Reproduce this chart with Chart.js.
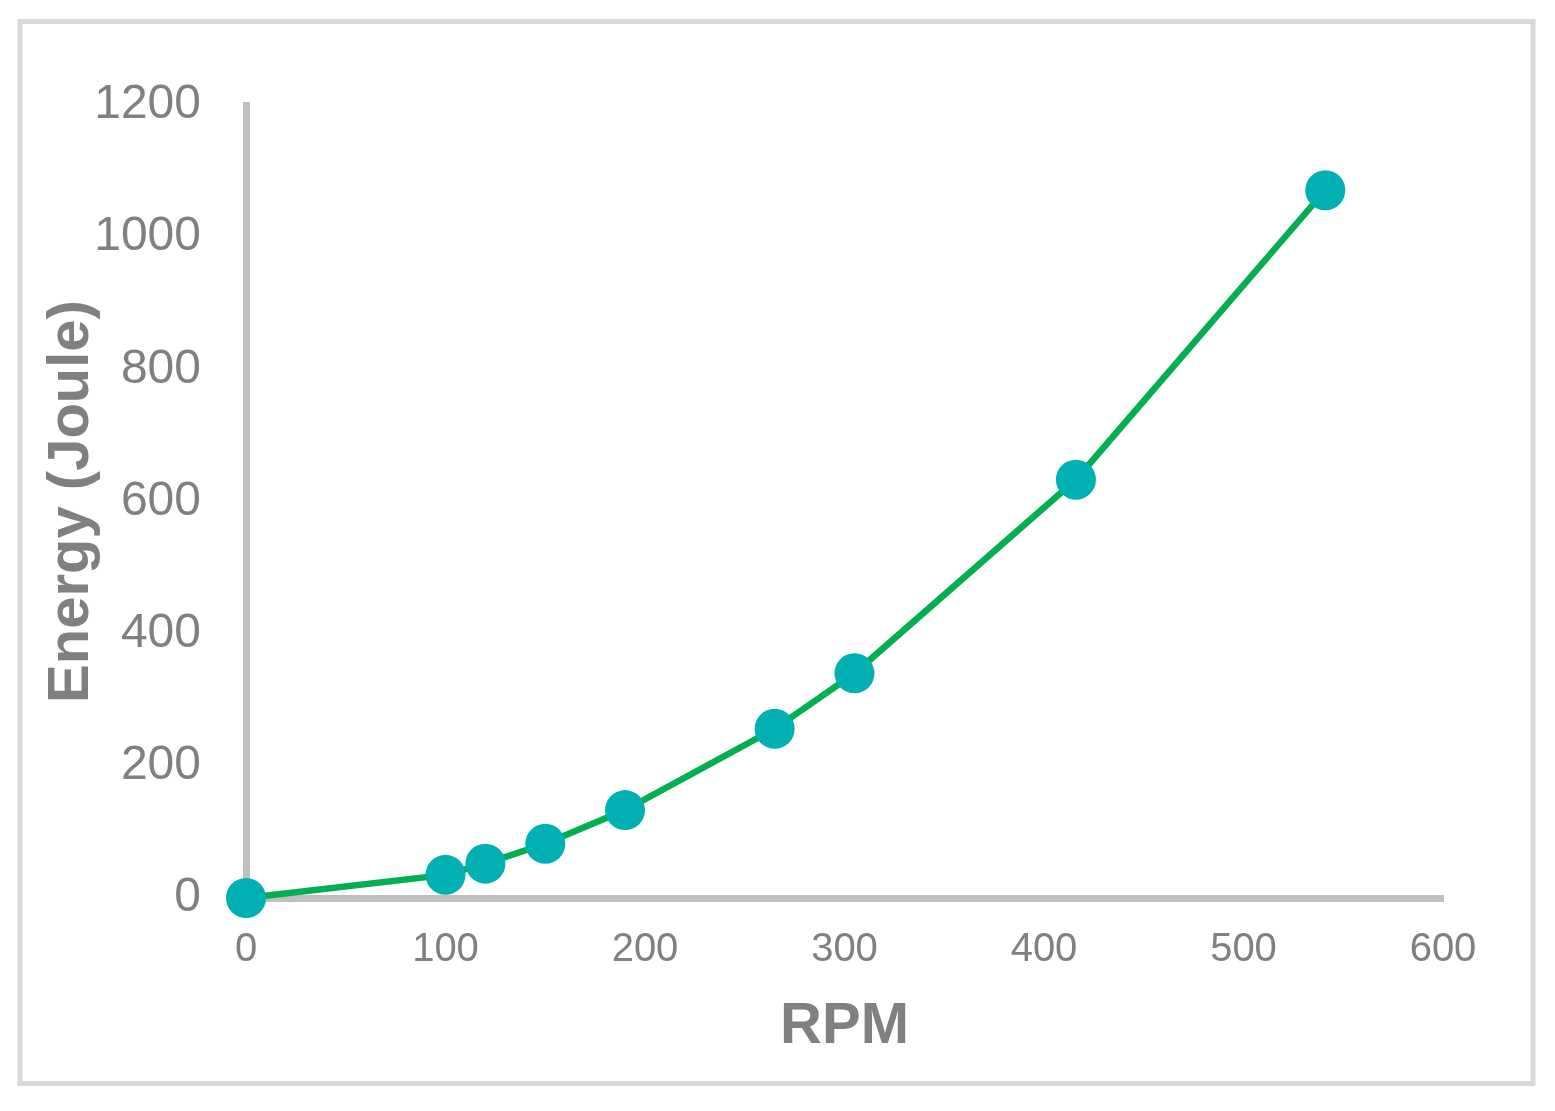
<!DOCTYPE html>
<html>
<head>
<meta charset="utf-8">
<script src="https://cdn.jsdelivr.net/npm/chart.js@4"></script>
<style>
  html, body { margin: 0; padding: 0; background: #ffffff; }
  #wrap { width: 1555px; height: 1111px; position: relative; }
</style>
</head>
<body>
<div id="wrap"><canvas id="chart" width="1555" height="1111"></canvas></div>
<script>
// RPM vs energy
const rpm = [0, 100, 120, 150, 190, 265, 305, 416, 541];
const energy = [0, 35, 52, 82, 133, 256, 340, 633, 1071];

const xTicks = [0, 100, 200, 300, 400, 500, 600];
const yTicks = [0, 200, 400, 600, 800, 1000, 1200];

const FONT = "'Liberation Sans', Arial, sans-serif";
const GREY = '#808080';
const AXIS = '#BFBFBF';

// light grey frame around the whole chart
const framePlugin = {
  id: 'frame',
  beforeDraw(chart) {
    const c = chart.ctx;
    c.save();
    c.fillStyle = '#ffffff';
    c.fillRect(0, 0, chart.width, chart.height);
    c.strokeStyle = '#D9D9D9';
    c.lineWidth = 5;
    c.strokeRect(20, 21.5, 1513, 1062);
    c.restore();
  }
};

new Chart(document.getElementById('chart'), {
  type: 'line',
  data: {
    datasets: [{
      data: rpm.map((x, i) => ({ x: x, y: energy[i] })),
      borderColor: '#00B050',
      borderWidth: 6.5,
      tension: 0,
      pointRadius: 20,
      pointHoverRadius: 20,
      pointBackgroundColor: '#00B0B2',
      pointBorderColor: '#00B0B2',
      pointBorderWidth: 0,
      clip: false
    }]
  },
  options: {
    responsive: false,
    animation: false,
    layout: { padding: { left: 0, top: 105, right: 112, bottom: 0 } },
    plugins: {
      legend: { display: false },
      tooltip: { enabled: false }
    },
    scales: {
      x: {
        type: 'linear',
        min: 0,
        max: 600,
        afterBuildTicks: (s) => { s.ticks = xTicks.map(v => ({ value: v })); },
        afterFit: (s) => { s.height = 213; },
        grid: { display: false, drawTicks: false },
        border: { color: AXIS, width: 7 },
        ticks: {
          color: GREY,
          padding: 28,
          maxRotation: 0,
          font: { family: FONT, size: 40 },
          callback: (v) => String(v)
        },
        title: {
          display: true,
          text: 'RPM',
          color: GREY,
          font: { family: FONT, size: 58, weight: 'bold' },
          padding: { bottom: 49 }
        }
      },
      y: {
        type: 'linear',
        min: 0,
        max: 1200,
        afterBuildTicks: (s) => { s.ticks = yTicks.map(v => ({ value: v })); },
        afterFit: (s) => { s.width = 246; },
        grid: { display: false, drawTicks: false },
        border: { color: AXIS, width: 7 },
        ticks: {
          color: GREY,
          padding: 45,
          font: { family: FONT, size: 48 },
          callback: (v) => String(v)
        },
        title: {
          display: true,
          text: 'Energy (Joule)',
          color: GREY,
          font: { family: FONT, size: 58, weight: 'bold' },
          padding: { top: 37 }
        }
      }
    }
  },
  plugins: [framePlugin]
});
</script>
</body>
</html>
